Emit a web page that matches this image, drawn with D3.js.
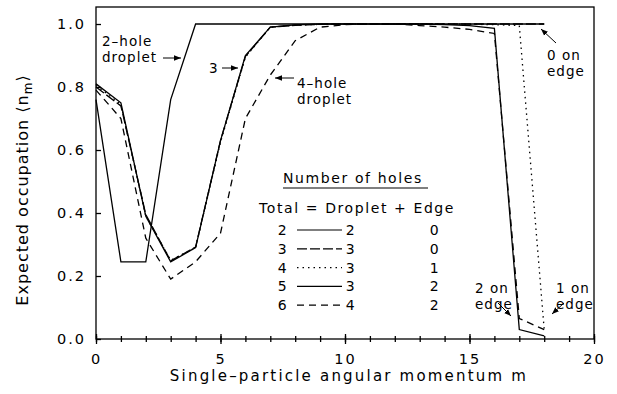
<!DOCTYPE html>
<html lang="en">
<head>
<meta charset="UTF-8">
<title>Expected occupation</title>
<script src="https://cdn.jsdelivr.net/npm/d3@7"></script>
<style>
body { margin: 0; background: white; }
text { font-family: 'DejaVu Sans', sans-serif; fill: black; }
.curve { fill: none; stroke: black; stroke-width: 1.3; }
.axis path, .axis line { stroke: black; stroke-width: 1.3; }
</style>
</head>
<body>
<svg width="617" height="394"></svg>
<script>

// angular momentum m = 0..18
var mValues = d3.range(0, 19);

// expected occupation <n_m>, one array per total number of holes
var total2 = [0.76, 0.245, 0.245, 0.76, 1.0, 1.0, 1.0, 1.0, 1.0, 1.0, 1.0, 1.0, 1.0, 1.0, 1.0, 1.0, 1.0, 1.0, 1.0];
var total3 = [0.80, 0.74, 0.395, 0.248, 0.292, 0.63, 0.897, 0.99, 0.996, 0.999, 1.0, 1.0, 1.0, 1.0, 1.0, 1.0, 1.0, 1.0, 1.0];
var total4 = [0.805, 0.745, 0.39, 0.25, 0.29, 0.625, 0.895, 0.99, 0.996, 0.999, 1.0, 1.0, 1.0, 1.0, 1.0, 0.999, 0.998, 0.995, 0.03];
var total5 = [0.81, 0.75, 0.39, 0.245, 0.29, 0.63, 0.9, 0.99, 0.997, 1.0, 1.0, 1.0, 1.0, 1.0, 0.998, 0.995, 0.986, 0.03, 0.01];
var total6 = [0.79, 0.70, 0.32, 0.19, 0.245, 0.336, 0.70, 0.838, 0.947, 0.99, 0.998, 1.0, 1.0, 0.995, 0.99, 0.983, 0.97, 0.065, 0.03];

var totals = ["2", "3", "4", "5", "6"];
var droplets = ["2", "3", "3", "3", "4"];
var edges = ["0", "0", "1", "2", "2"];
var dashes = [null, "10,3", "1.5,4", null, "7,5"];

var xTicks = [0, 5, 10, 15, 20];
var xMinorTicks = d3.range(0, 21);
var yTicks = [0, 0.2, 0.4, 0.6, 0.8, 1.0];

var series = [total2, total3, total4, total5, total6].map(function(vals, i) {
    return {total: totals[i], droplet: droplets[i], edge: edges[i], dash: dashes[i],
            points: mValues.map(function(m, j) { return [m, vals[j]]; })};
});

var svg = d3.select("svg");

var x = d3.scaleLinear().domain([0, 20]).range([96, 594]);
var y = d3.scaleLinear().domain([0, 1.054]).range([339, 7]);

// frame
svg.append("rect")
    .attr("x", x(0)).attr("y", y(1.054))
    .attr("width", x(20) - x(0)).attr("height", y(0) - y(1.054))
    .attr("fill", "none").attr("stroke", "black").attr("stroke-width", 1.3);

// x axis: minor ticks then labelled major ticks
svg.append("g").attr("class", "axis")
    .attr("transform", "translate(0," + y(0) + ")")
    .call(d3.axisBottom(x).tickValues(xMinorTicks).tickSize(3).tickFormat(""))
    .call(function(g) {
        g.select(".domain").remove();
        g.selectAll(".tick line").attr("y1", -3);
    });

svg.append("g").attr("class", "axis")
    .attr("transform", "translate(0," + y(0) + ")")
    .call(d3.axisBottom(x).tickValues(xTicks).tickSize(5).tickFormat(d3.format("d")))
    .call(function(g) {
        g.select(".domain").remove();
        g.selectAll(".tick line").attr("y1", -5);
        g.selectAll(".tick text").attr("y", 15).attr("font-size", 14.5)
            .attr("font-family", "'DejaVu Sans', sans-serif").attr("letter-spacing", 2);
    });

svg.append("g").attr("class", "axis")
    .attr("transform", "translate(" + x(0) + ",0)")
    .call(d3.axisLeft(y).tickValues(yTicks).tickSize(5).tickFormat(d3.format(".1f")))
    .call(function(g) {
        g.select(".domain").remove();
        g.selectAll(".tick line").attr("x2", 5);
        g.selectAll(".tick text").attr("x", -10).attr("font-size", 14.5)
            .attr("font-family", "'DejaVu Sans', sans-serif").attr("letter-spacing", 2);
    });

// axis titles
svg.append("text")
    .attr("x", 349).attr("y", 381)
    .attr("text-anchor", "middle").attr("font-size", 15).attr("letter-spacing", 2.2)
    .text("Single\u2013particle angular momentum m");

var yTitle = svg.append("text")
    .attr("transform", "translate(28,190) rotate(-90)")
    .attr("text-anchor", "middle").attr("font-size", 16).attr("letter-spacing", 1);
yTitle.append("tspan").text("Expected occupation \u27e8n");
yTitle.append("tspan").attr("font-size", 12).attr("dy", 4).text("m");
yTitle.append("tspan").attr("dy", -4).text("\u27e9");

// curves
var line = d3.line()
    .x(function(d) { return x(d[0]); })
    .y(function(d) { return y(d[1]); });

svg.selectAll(".curve")
    .data(series)
    .enter()
    .append("path")
    .attr("class", "curve")
    .attr("stroke-dasharray", function(d) { return d.dash; })
    .attr("d", function(d) { return line(d.points); });

// legend
var legend = svg.append("g").attr("font-size", 14).attr("letter-spacing", 1.6);

legend.append("text").attr("x", 283).attr("y", 183).text("Number of holes");
legend.append("line").attr("x1", 283).attr("x2", 428).attr("y1", 188).attr("y2", 188)
    .attr("stroke", "black").attr("stroke-width", 1.2);
legend.append("text").attr("x", 259).attr("y", 213).text("Total = Droplet + Edge");

var rows = legend.selectAll(".row")
    .data(series)
    .enter()
    .append("g")
    .attr("class", "row")
    .attr("transform", function(d, i) { return "translate(0," + (230 + i * 18.8) + ")"; });

rows.append("text").attr("x", 283).attr("y", 5).attr("text-anchor", "middle")
    .text(function(d) { return d.total; });
rows.append("line").attr("x1", 297).attr("x2", 342).attr("y1", 0).attr("y2", 0)
    .attr("stroke", "black").attr("stroke-width", 1.2)
    .attr("stroke-dasharray", function(d) { return d.dash; });
rows.append("text").attr("x", 351).attr("y", 5).attr("text-anchor", "middle")
    .text(function(d) { return d.droplet; });
rows.append("text").attr("x", 435).attr("y", 5).attr("text-anchor", "middle")
    .text(function(d) { return d.edge; });

// annotations
svg.append("defs").append("marker")
    .attr("id", "head")
    .attr("viewBox", "0 0 10 10").attr("refX", 10).attr("refY", 5)
    .attr("markerWidth", 7).attr("markerHeight", 7).attr("orient", "auto")
    .append("path").attr("d", "M0,1 L10,5 L0,9 Z").attr("fill", "black");

var notes = [
    {lines: ["2\u2013hole", "droplet"], x: 102, y: 46, from: [163, 58], to: [181, 58]},
    {lines: ["3"], x: 209, y: 73, from: [222, 68], to: [238, 68]},
    {lines: ["4\u2013hole", "droplet"], x: 297, y: 88, from: [294, 78], to: [275, 78]},
    {lines: ["0 on", "edge"], x: 547, y: 60, from: [556, 43], to: [541, 29]},
    {lines: ["2 on", "edge"], x: 475, y: 293, from: [498, 303], to: [511, 316]},
    {lines: ["1 on", "edge"], x: 556, y: 293, from: [564, 303], to: [552, 314]}
];

notes.forEach(function(n) {
    n.lines.forEach(function(s, i) {
        svg.append("text").attr("font-size", 13.5).attr("letter-spacing", 1)
            .attr("x", n.x).attr("y", n.y + i * 16).text(s);
    });
    svg.append("line")
        .attr("x1", n.from[0]).attr("y1", n.from[1])
        .attr("x2", n.to[0]).attr("y2", n.to[1])
        .attr("stroke", "black").attr("stroke-width", 1)
        .attr("marker-end", "url(#head)");
});

</script>
</body>
</html>
